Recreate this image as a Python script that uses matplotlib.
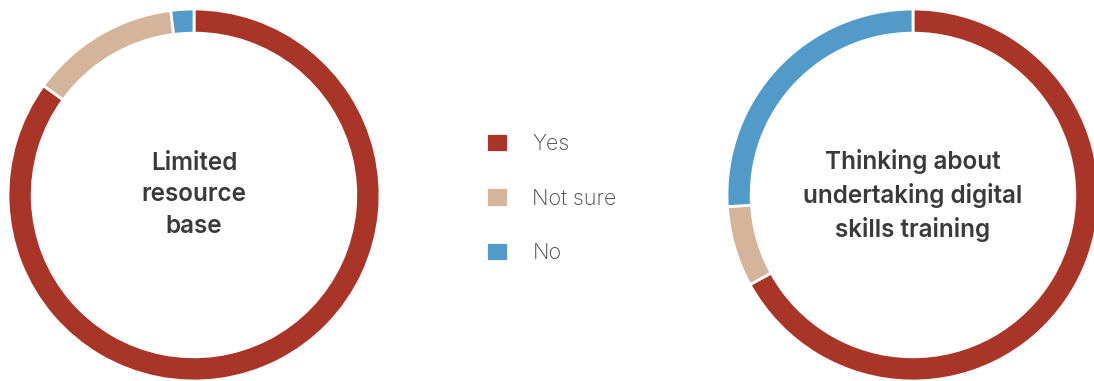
import matplotlib
matplotlib.use("Agg")
import matplotlib.pyplot as plt

categories = ["Yes", "Not sure", "No"]
left_values = [85, 13, 2]
right_values = [67, 7, 26]
left_title = "Limited\nresource\nbase"
right_title = "Thinking about\nundertaking digital\nskills training"
colors = ["#A93529", "#D4B49A", "#529BC9"]

W, H = 1094, 381
fig = plt.figure(figsize=(W / 100, H / 100), dpi=100)
plt.rcParams['font.family'] = ['Inter', 'DejaVu Sans']

def add_donut(cx, cy, r, values, title):
    ax = fig.add_axes([(cx - r) / W, (H - cy - r) / H, 2 * r / W, 2 * r / H])
    wedges, _ = ax.pie(values, colors=colors, startangle=90, counterclock=False,
                       radius=1.0,
                       wedgeprops=dict(width=0.13, edgecolor="white", linewidth=2))
    ax.set_xlim(-1, 1)
    ax.set_ylim(-1, 1)
    ax.set_aspect("equal")
    ax.axis("off")
    ax.text(0, 0, title, ha="center", va="center", fontsize=17.5,
            fontweight="semibold", color="#3a3a3a", linespacing=1.45)
    return wedges

wl = add_donut(194, 195, 186, left_values, left_title)
add_donut(913, 195, 186, right_values, right_title)

leg = fig.legend(wl, categories, loc="upper left",
                 bbox_to_anchor=(486 / W, 1 - 133 / H),
                 frameon=False, fontsize=15.5, handlelength=1.0, handleheight=1.0,
                 handletextpad=1.15, labelspacing=1.55, borderpad=0, borderaxespad=0)
for t in leg.get_texts():
    t.set_color("#444444")
    t.set_fontweight("light")

fig.savefig("out.png", dpi=100)
